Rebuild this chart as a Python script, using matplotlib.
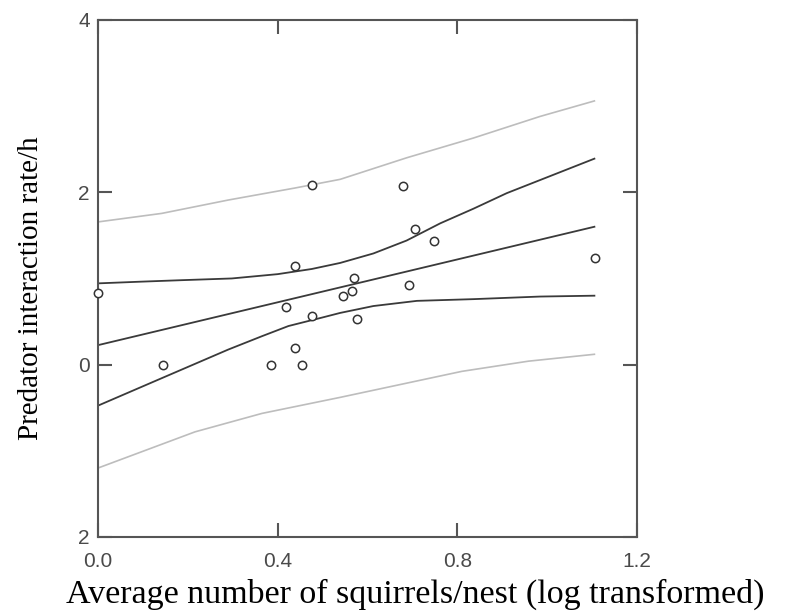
import numpy as np
import matplotlib
matplotlib.use("Agg")
import matplotlib.pyplot as plt

# observed nests
squirrels = [0.0, 0.145, 0.385, 0.418, 0.438, 0.439, 0.454, 0.476, 0.476, 0.545,
             0.565, 0.569, 0.576, 0.679, 0.693, 0.706, 0.748, 1.107]
predator_rate = [0.83, 0.0, 0.0, 0.67, 0.19, 1.15, 0.0, 2.08, 0.56, 0.80,
                 0.86, 1.01, 0.53, 2.07, 0.92, 1.57, 1.43, 1.24]

# fitted line
fit_x = [0.0, 1.105]
fit_y = [0.226, 1.60]

# confidence band
ci_upper_x = [0.0, 0.097, 0.186, 0.298, 0.40, 0.476, 0.539, 0.613, 0.687, 0.762, 0.836, 0.910, 1.105]
ci_upper_y = [0.943, 0.963, 0.98, 1.0, 1.05, 1.11, 1.18, 1.29, 1.44, 1.64, 1.81, 1.99, 2.39]
ci_lower_x = [0.0, 0.142, 0.29, 0.365, 0.424, 0.498, 0.539, 0.613, 0.71, 0.836, 0.984, 1.105]
ci_lower_y = [-0.476, -0.157, 0.175, 0.33, 0.448, 0.545, 0.60, 0.68, 0.74, 0.76, 0.79, 0.80]

# prediction band
pi_upper_x = [0.0, 0.142, 0.29, 0.439, 0.539, 0.687, 0.836, 0.984, 1.105]
pi_upper_y = [1.656, 1.755, 1.91, 2.05, 2.15, 2.40, 2.63, 2.88, 3.06]
pi_lower_x = [0.0, 0.216, 0.365, 0.539, 0.81, 0.958, 1.105]
pi_lower_y = [-1.20, -0.78, -0.566, -0.38, -0.078, 0.04, 0.12]

x_ticks = [0.0, 0.4, 0.8, 1.2]
x_labels = ["0.0", "0.4", "0.8", "1.2"]
y_ticks = [-2, 0, 2, 4]
y_labels = ["2", "0", "2", "4"]

fig = plt.figure(figsize=(7.87, 6.13), dpi=100)
ax = fig.add_axes([0.1245, 0.124, 0.685, 0.8435])

dark = "#3a3a3a"
light = "#bdbdbd"
ax.plot(pi_upper_x, pi_upper_y, color=light, lw=1.2)
ax.plot(pi_lower_x, pi_lower_y, color=light, lw=1.2)
ax.plot(ci_upper_x, ci_upper_y, color=dark, lw=1.3)
ax.plot(ci_lower_x, ci_lower_y, color=dark, lw=1.3)
ax.plot(fit_x, fit_y, color=dark, lw=1.3)
ax.plot(squirrels, predator_rate, "o", mfc="white", mec="#333333", mew=1.1, ms=6,
        clip_on=False, zorder=5)

ax.set_xlim(0, 1.2)
ax.set_ylim(-2, 4)
ax.set_xticks(x_ticks)
ax.set_xticklabels(x_labels)
ax.set_yticks(y_ticks)
ax.set_yticklabels(y_labels)
ax.tick_params(direction="in", length=10, width=1.5, color="#555555",
               top=True, right=True, labelsize=15, labelcolor="#4a4a4a")
ax.tick_params(axis="x", pad=11)
ax.tick_params(axis="y", pad=6)
for lab in ax.get_xticklabels() + ax.get_yticklabels():
    lab.set_family("Liberation Sans")
for s in ax.spines.values():
    s.set_color("#555555")
    s.set_linewidth(1.5)

ax.set_xlabel("Average number of squirrels/nest (log transformed)",
              family="Liberation Serif", fontsize=24.5)
ax.xaxis.set_label_coords(0.588, -0.08)
ax.set_ylabel("Predator interaction rate/h",
              family="Liberation Serif", fontsize=21)
ax.yaxis.set_label_coords(-0.10, 0.482)

fig.savefig("out.png", dpi=100)
